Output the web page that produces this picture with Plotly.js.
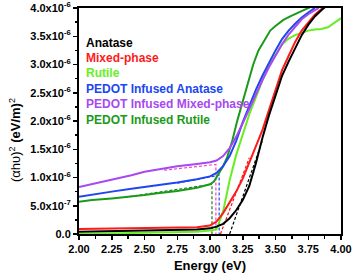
<!DOCTYPE html>
<html><head><meta charset="utf-8">
<script src="https://cdn.plot.ly/plotly-3.0.1.min.js"></script>
<style>html,body{margin:0;padding:0;background:#fff}#chart{width:354px;height:277px}</style>
</head><body><div id="chart"></div>
<script>
// values in units of 1e-6 (eV/m)^2
const SCALE = 1e-6;
const anataseE = [2.00,2.25,2.50,2.75,2.90,3.00,3.05,3.10,3.15,3.20,3.25,3.30,3.35,3.40,3.45,3.50,3.55,3.60,3.65,3.70,3.75,3.80,3.85,3.88];
const anataseV = [0.04,0.05,0.06,0.07,0.08,0.10,0.13,0.18,0.28,0.42,0.60,0.85,1.25,1.70,2.10,2.45,2.80,3.05,3.30,3.52,3.70,3.85,3.96,4.02];
const mixedE = [2.00,2.25,2.50,2.75,2.90,3.00,3.05,3.10,3.15,3.20,3.25,3.30,3.35,3.40,3.45,3.50,3.55,3.60,3.65,3.70,3.75,3.80,3.86];
const mixedV = [0.09,0.10,0.10,0.11,0.12,0.15,0.22,0.37,0.55,0.75,0.98,1.25,1.55,1.84,2.20,2.55,2.90,3.15,3.40,3.60,3.75,3.88,4.00];
const rutileE = [2.00,2.25,2.50,2.75,2.90,3.00,3.05,3.10,3.15,3.20,3.25,3.30,3.35,3.40,3.45,3.50,3.55,3.60,3.65,3.70,3.75,3.80,3.85,3.90,3.95,4.00];
const rutileV = [0.00,0.01,0.02,0.03,0.04,0.06,0.08,0.40,0.95,1.40,1.78,2.12,2.42,2.72,2.98,3.18,3.36,3.46,3.52,3.56,3.60,3.62,3.63,3.66,3.74,3.82];
const pAnataseE = [2.00,2.10,2.25,2.40,2.50,2.60,2.75,2.90,3.00,3.05,3.10,3.15,3.20,3.25,3.30,3.35,3.40,3.45,3.50,3.55,3.60,3.65,3.70,3.75,3.80];
const pAnataseV = [0.66,0.70,0.75,0.80,0.83,0.86,0.91,0.97,1.02,1.08,1.20,1.38,1.65,1.98,2.28,2.55,2.80,3.03,3.25,3.45,3.60,3.72,3.83,3.92,4.00];
const pMixedE = [2.00,2.10,2.25,2.40,2.50,2.60,2.75,2.90,3.00,3.05,3.10,3.15,3.20,3.25,3.30,3.35,3.40,3.45,3.50,3.55,3.60,3.65,3.70,3.75,3.83];
const pMixedV = [0.83,0.88,0.96,1.04,1.10,1.14,1.20,1.24,1.27,1.30,1.38,1.52,1.72,1.96,2.22,2.48,2.72,2.95,3.16,3.36,3.53,3.67,3.80,3.89,4.00];
const pRutileE = [2.00,2.10,2.25,2.40,2.50,2.60,2.75,2.90,3.00,3.03,3.06,3.10,3.13,3.17,3.21,3.25,3.29,3.33,3.37,3.42,3.46,3.50,3.56,3.62,3.70,3.77];
const pRutileV = [0.57,0.60,0.63,0.66,0.69,0.72,0.76,0.82,0.88,0.93,1.05,1.20,1.35,1.65,2.02,2.35,2.70,3.00,3.25,3.45,3.60,3.68,3.79,3.86,3.94,4.02];
// fit / guide lines (dashed)
const fitAnataseE = [3.15,3.40]; const fitAnataseV = [0.00,1.65];
const fitMixedE = [3.08,3.30]; const fitMixedV = [0.00,1.35];
const fitPRutileE = [2.35,3.015,3.015]; const fitPRutileV = [0.65,0.88,0.00];
const fitPMixedE = [2.65,3.045,3.045]; const fitPMixedV = [1.13,1.23,0.00];
const fitPAnataseE = [2.75,3.07,3.07]; const fitPAnataseV = [0.90,1.04,0.00];

const names = ['Anatase','Mixed-phase','Rutile','PEDOT Infused Anatase','PEDOT Infused Mixed-phase','PEDOT Infused Rutile'];
const colors = ['#000000','#ff1a1a','#66ee22','#2046f0','#a848f0','#1a9a1a'];
const yTickVals = [0,0.5,1.0,1.5,2.0,2.5,3.0,3.5,4.0];
const yTickText = ['0.0','5.0x10<sup>-7</sup>','1.0x10<sup>-6</sup>','1.5x10<sup>-6</sup>','2.0x10<sup>-6</sup>','2.5x10<sup>-6</sup>','3.0x10<sup>-6</sup>','3.5x10<sup>-6</sup>','4.0x10<sup>-6</sup>'];
const yTitle = '(αhυ)<sup>2</sup> <b>(eV/m)</b><sup>2</sup>';

const sc = a => a.map(v => v*SCALE);
function line(x,y,color,dash,w){return {x:x,y:sc(y),mode:'lines',line:{color:color,width:w||2,dash:dash||'solid'},showlegend:false,hoverinfo:'skip'};}
const DASH = '3px,2px';
const traces = [
  line(fitAnataseE,fitAnataseV,'#000000',DASH,1.2),
  line(fitMixedE,fitMixedV,'#ff1a1a',DASH,1.2),
  line(fitPRutileE,fitPRutileV,'#1a7a1a',DASH,1.2),
  line(fitPMixedE,fitPMixedV,'#ee44cc',DASH,1.2),
  line(fitPAnataseE,fitPAnataseV,'#2046f0',DASH,1.2),
  line(rutileE,rutileV,colors[2]),
  line(pRutileE,pRutileV,colors[5]),
  line(pAnataseE,pAnataseV,colors[3]),
  line(pMixedE,pMixedV,colors[4]),
  line(mixedE,mixedV,colors[1]),
  line(anataseE,anataseV,colors[0])
];
const legY = [0.845,0.779,0.712,0.641,0.575,0.504];
const annotations = names.map((n,i)=>({xref:'paper',yref:'paper',x:0.018,y:legY[i],xanchor:'left',yanchor:'middle',showarrow:false,text:'<b>'+n+'</b>',font:{family:'Arial, Liberation Sans',size:12,color:colors[i]}}));
annotations.push({xref:'paper',yref:'paper',x:-0.245,y:0.415,xanchor:'center',yanchor:'middle',textangle:-90,showarrow:false,text:yTitle,font:{family:'Arial, Liberation Sans',size:13,color:'#000'}});
const boldFont = {family:'Arial, Liberation Sans',size:11,color:'#000',weight:'bold'};
const layout = {
  width:354,height:277,
  margin:{l:79,r:13,t:8,b:43},
  paper_bgcolor:'#fff',plot_bgcolor:'#fff',
  showlegend:false,
  annotations:annotations,
  xaxis:{range:[2,4],tickvals:[2,2.25,2.5,2.75,3,3.25,3.5,3.75,4],tickformat:'.2f',ticks:'outside',ticklen:4,tickwidth:1.5,tickcolor:'#000',
    minor:{dtick:0.125,ticks:'outside',ticklen:2.5,tickcolor:'#000',tickwidth:1.5,showgrid:false},
    showline:true,linecolor:'#000',linewidth:2,mirror:true,showgrid:false,zeroline:false,
    tickfont:boldFont,
    title:{text:'<b>Energy (eV)</b>',font:{family:'Arial, Liberation Sans',size:13,color:'#000'},standoff:7}},
  yaxis:{range:[0,4*SCALE],tickvals:sc(yTickVals),ticktext:yTickText,ticks:'outside',ticklen:4,tickwidth:1.5,tickcolor:'#000',
    minor:{dtick:0.25*SCALE,ticks:'outside',ticklen:2.5,tickcolor:'#000',tickwidth:1.5,showgrid:false},
    showline:true,linecolor:'#000',linewidth:2,mirror:true,showgrid:false,zeroline:false,
    tickfont:boldFont}
};
Plotly.newPlot('chart',traces,layout,{staticPlot:true,displayModeBar:false});
</script></body></html>
